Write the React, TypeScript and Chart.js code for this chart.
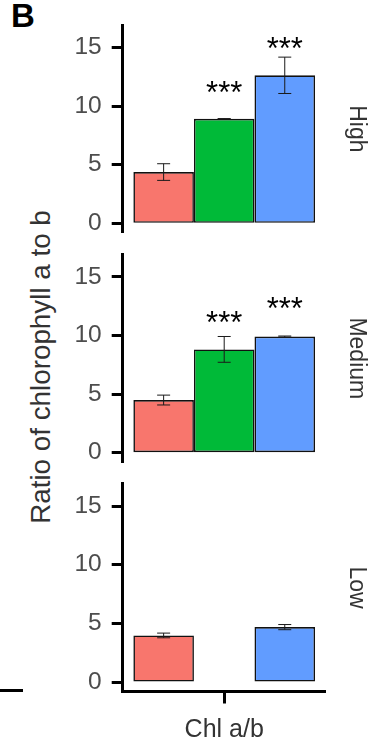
import React, { useEffect, useRef } from "react";
import { Chart, registerables } from "chart.js";

Chart.register(...registerables);

// ---- data ----
const CATEGORIES = ["Chl a/b"];
const PANELS = ["High", "Medium", "Low"];
const Y_TICKS = [0, 5, 10, 15];
const Y_MIN = -0.81;
const Y_MAX = 16.91;

const SERIES_NAMES = ["Group 1", "Group 2", "Group 3"];
const RED_MEAN: (number | null)[] = [4.37, 4.49, 3.97];
const RED_ERR: (number | null)[] = [0.71, 0.42, 0.2];
const GREEN_MEAN: (number | null)[] = [8.91, 8.81, null];
const GREEN_ERR: (number | null)[] = [0.02, 1.1, null];
const BLUE_MEAN: (number | null)[] = [12.62, 9.9, 4.68];
const BLUE_ERR: (number | null)[] = [1.55, 0.05, 0.22];
// heights (data units) at which the significance marks sit
const RED_STARS: (number | null)[] = [null, null, null];
const GREEN_STARS: (number | null)[] = [11.77, 11.74, null];
const BLUE_STARS: (number | null)[] = [15.56, 12.87, null];
const STAR_TEXT = "***";

// ---- styling / layout ----
const FONT = "'Liberation Sans', Arial, Helvetica, sans-serif";
const COLORS = ["#F8766D", "#00BA38", "#619CFF"];
const W = 369;
const H = 746;
const PLOT_LEFT = 122.7;
const PLOT_RIGHT = 325.7;
const PANEL_TOP = [25.0, 254.4, 483.7];
const PANEL_H = 207.8;
const STAR_SIZE = 31;

// scales must not push the plot area around with their own label padding
const noScalePadding = (s: any) => {
  s.paddingTop = 0;
  s.paddingBottom = 0;
  s.paddingLeft = 0;
  s.paddingRight = 0;
};

const errorBarPlugin = {
  id: "errorBarsAndStars",
  afterDatasetsDraw(chart: any) {
    const ctx = chart.ctx as CanvasRenderingContext2D;
    const y = chart.scales.y;
    chart.data.datasets.forEach((ds: any, di: number) => {
      const meta = chart.getDatasetMeta(di);
      meta.data.forEach((el: any, j: number) => {
        const v = ds.data[j];
        const e = ds.errors ? ds.errors[j] : null;
        if (v == null) return;
        ctx.save();
        if (e != null) {
          const top = y.getPixelForValue(v + e);
          const bot = y.getPixelForValue(v - e);
          const cap = 6.5;
          ctx.strokeStyle = "#1a1a1a";
          ctx.lineWidth = 1;
          ctx.beginPath();
          ctx.moveTo(el.x, top);
          ctx.lineTo(el.x, bot);
          ctx.moveTo(el.x - cap, top);
          ctx.lineTo(el.x + cap, top);
          ctx.moveTo(el.x - cap, bot);
          ctx.lineTo(el.x + cap, bot);
          ctx.stroke();
        }
        const s = ds.stars ? ds.stars[j] : null;
        if (s != null) {
          ctx.fillStyle = "#000";
          ctx.font = `${STAR_SIZE}px ${FONT}`;
          ctx.textAlign = "center";
          ctx.textBaseline = "alphabetic";
          ctx.fillText(STAR_TEXT, el.x, y.getPixelForValue(s) + 0.57 * STAR_SIZE);
        }
        ctx.restore();
      });
    });
  },
};

function Panel({ index }: { index: number }) {
  const ref = useRef<HTMLCanvasElement | null>(null);
  const isLast = index === PANELS.length - 1;
  const canvasTop = Math.floor(PANEL_TOP[index]) - 10;
  const padTop = PANEL_TOP[index] - canvasTop;
  const canvasH = isLast ? H - canvasTop : 228;
  const padBottom = isLast ? 0 : canvasH - padTop - PANEL_H;
  const xAxisH = isLast ? canvasH - padTop - PANEL_H : 0;

  useEffect(() => {
    if (!ref.current) return;
    const means = [RED_MEAN, GREEN_MEAN, BLUE_MEAN];
    const errs = [RED_ERR, GREEN_ERR, BLUE_ERR];
    const stars = [RED_STARS, GREEN_STARS, BLUE_STARS];
    const chart = new Chart(ref.current, {
      type: "bar",
      data: {
        labels: CATEGORIES,
        datasets: means.map((m, k) => ({
          label: SERIES_NAMES[k],
          data: [m[index]],
          errors: [errs[k][index]],
          stars: [stars[k][index]],
          backgroundColor: COLORS[k],
          borderColor: "#111",
          borderWidth: 1.6,
          borderSkipped: false,
          categoryPercentage: 0.895,
          barPercentage: 1,
        })) as any,
      },
      options: {
        animation: false,
        responsive: false,
        devicePixelRatio: 1,
        layout: { padding: { top: padTop, bottom: padBottom, left: 0, right: 0 } },
        plugins: {
          legend: { display: false },
          tooltip: { enabled: false },
        },
        scales: {
          x: {
            type: "category",
            display: isLast,
            offset: true,
            grid: {
              display: true,
              drawOnChartArea: false,
              offset: false,
              tickLength: 12,
              tickWidth: 3,
              tickColor: "#000",
            },
            border: { display: true, width: 3, color: "#000" },
            ticks: { display: false },
            title: {
              display: true,
              text: CATEGORIES[0],
              color: "#333",
              font: { family: FONT, size: 25, lineHeight: 1.2 },
              padding: { top: 0, bottom: 0.4 },
            },
            afterFit: (s: any) => {
              s.height = xAxisH;
              noScalePadding(s);
            },
          },
          y: {
            type: "linear",
            position: "left",
            min: Y_MIN,
            max: Y_MAX,
            afterBuildTicks: (s: any) => {
              s.ticks = Y_TICKS.map((v) => ({ value: v }));
            },
            afterFit: (s: any) => {
              s.width = PLOT_LEFT;
              noScalePadding(s);
            },
            grid: {
              display: true,
              drawOnChartArea: false,
              tickLength: 11,
              tickWidth: 3,
              tickColor: "#000",
            },
            border: { display: true, width: 3, color: "#000" },
            ticks: {
              color: "#4d4d4d",
              padding: 10,
              font: { family: FONT, size: 24.5 },
            },
          },
          y2: {
            type: "linear",
            position: "right",
            display: true,
            grid: { display: false },
            border: { display: false },
            ticks: { display: false },
            title: {
              display: true,
              text: PANELS[index],
              color: "#333",
              font: { family: FONT, size: 23, lineHeight: 1 },
              padding: { top: 0.7, bottom: 0 },
            },
            afterFit: (s: any) => {
              s.width = W - PLOT_RIGHT;
              noScalePadding(s);
            },
          },
        },
      } as any,
      plugins: [errorBarPlugin],
    });
    return () => chart.destroy();
  }, [index]);

  return (
    <canvas
      ref={ref}
      width={W}
      height={canvasH}
      style={{ position: "absolute", left: 0, top: canvasTop, width: W, height: canvasH }}
    />
  );
}

export default function App() {
  return (
    <div
      style={{
        position: "absolute",
        left: 0,
        top: 0,
        width: W,
        height: H,
        background: "#fff",
        overflow: "hidden",
        fontFamily: FONT,
      }}
    >
      <div
        style={{
          position: "absolute",
          left: 11,
          top: -1.4,
          fontSize: 33,
          lineHeight: "33px",
          fontWeight: 700,
          color: "#000",
        }}
      >
        B
      </div>
      <div
        style={{
          position: "absolute",
          left: 41,
          top: 367,
          transform: "translate(-50%, -50%) rotate(-90deg)",
          whiteSpace: "nowrap",
          fontSize: 27.8,
          lineHeight: "27.8px",
          color: "#333",
        }}
      >
        Ratio of chlorophyll a to b
      </div>
      <div
        style={{ position: "absolute", left: 0, top: 688.5, width: 23, height: 3, background: "#000" }}
      />
      {PANELS.map((_, i) => (
        <Panel key={i} index={i} />
      ))}
    </div>
  );
}
